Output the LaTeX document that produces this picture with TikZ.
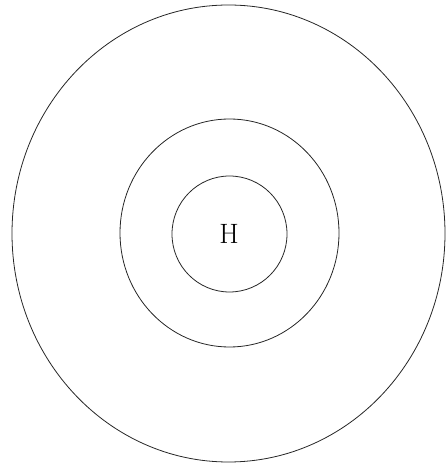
\documentclass[tikz,border=0pt]{standalone}
\usetikzlibrary{shapes.geometric}
\begin{document}
\begin{tikzpicture}[x=1pt,y=1pt,
  ring/.style={draw=black!85, line width=0.8pt, ellipse, inner sep=0pt, fill=none},
  label/.style={font=\fontsize{28}{30}\selectfont, inner sep=0pt}]
\useasboundingbox (0,0) rectangle (447,466);
\node[ring, minimum width=433pt, minimum height=457pt] (outer) at (228.5,232.5) {};
\node[ring, minimum width=219pt, minimum height=228pt] (middle) at (229.5,233) {};
\node[ring, minimum width=115pt, minimum height=116pt] (inner) at (229.5,232) {};
\node[label] (h) at (229,232) {H};
\end{tikzpicture}
\end{document}
